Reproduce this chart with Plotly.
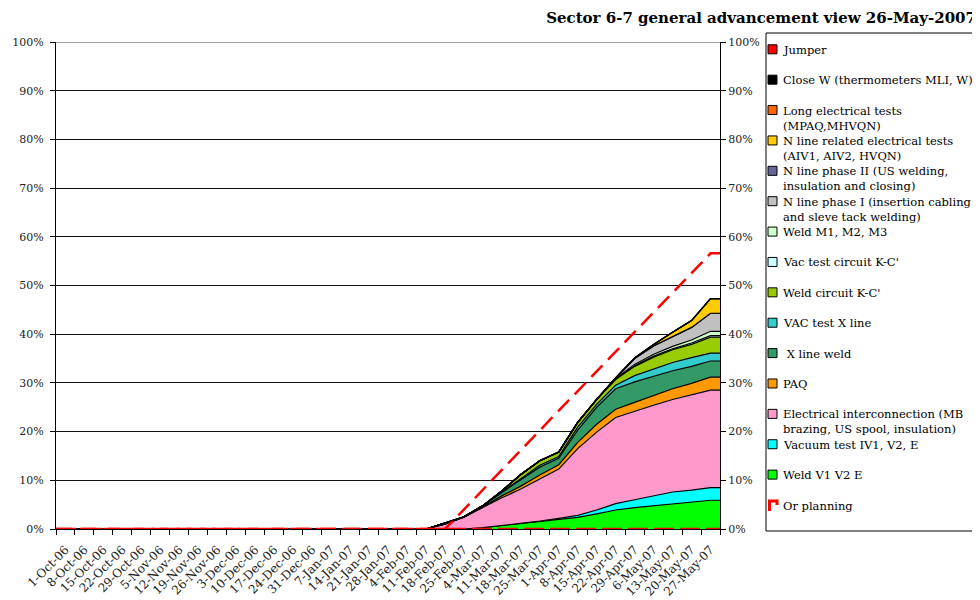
import plotly.graph_objects as go

dates = ["1-Oct-06", "8-Oct-06", "15-Oct-06", "22-Oct-06", "29-Oct-06", "5-Nov-06", "12-Nov-06",
         "19-Nov-06", "26-Nov-06", "3-Dec-06", "10-Dec-06", "17-Dec-06", "24-Dec-06", "31-Dec-06",
         "7-Jan-07", "14-Jan-07", "21-Jan-07", "28-Jan-07", "4-Feb-07", "11-Feb-07", "18-Feb-07",
         "25-Feb-07", "4-Mar-07", "11-Mar-07", "18-Mar-07", "25-Mar-07", "1-Apr-07", "8-Apr-07",
         "15-Apr-07", "22-Apr-07", "29-Apr-07", "6-May-07", "13-May-07", "20-May-07", "27-May-07"]

# values in % (one per week)
weld_v1_v2_e = [0, 0, 0, 0, 0, 0, 0, 0, 0, 0, 0, 0, 0, 0, 0, 0, 0, 0, 0,
                0, 0, 0, 0.3, 0.7, 1.1, 1.6, 2.0, 2.4, 3.1, 3.9, 4.4, 4.8, 5.2, 5.5, 5.9]
vacuum_test_iv1_v2_e = [0, 0, 0, 0, 0, 0, 0, 0, 0, 0, 0, 0, 0, 0, 0, 0, 0, 0, 0,
                        0, 0, 0, 0, 0, 0, 0, 0.2, 0.4, 0.8, 1.3, 1.6, 2.0, 2.4, 2.5, 2.6]
electrical_interconnection = [0, 0, 0, 0, 0, 0, 0, 0, 0, 0, 0, 0, 0, 0, 0, 0, 0, 0, 0,
                              0, 1.0, 2.4, 4.1, 5.7, 7.1, 8.7, 10.1, 13.7, 16.0, 17.7, 18.2, 18.6, 19.0, 19.5, 20.0]
paq = [0, 0, 0, 0, 0, 0, 0, 0, 0, 0, 0, 0, 0, 0, 0, 0, 0, 0, 0,
       0, 0, 0, 0.1, 0.4, 0.6, 0.8, 0.9, 1.3, 1.6, 1.7, 1.8, 2.0, 2.2, 2.4, 2.7]
x_line_weld = [0, 0, 0, 0, 0, 0, 0, 0, 0, 0, 0, 0, 0, 0, 0, 0, 0, 0, 0,
               0, 0.1, 0.1, 0.2, 0.7, 1.3, 1.6, 1.3, 2.5, 3.5, 4.2, 4.2, 4.0, 3.7, 3.5, 3.3]
vac_test_x_line = [0, 0, 0, 0, 0, 0, 0, 0, 0, 0, 0, 0, 0, 0, 0, 0, 0, 0, 0,
                   0, 0, 0, 0, 0.1, 0.2, 0.4, 0.4, 0.6, 0.6, 0.7, 1.3, 1.5, 1.7, 1.8, 1.6]
weld_circuit_kc = [0, 0, 0, 0, 0, 0, 0, 0, 0, 0, 0, 0, 0, 0, 0, 0, 0, 0, 0,
                   0, 0.1, 0, 0.1, 0.2, 0.9, 0.9, 0.9, 1.0, 1.0, 1.2, 1.9, 2.4, 2.6, 2.7, 3.3]
vac_test_circuit_kc = [0, 0, 0, 0, 0, 0, 0, 0, 0, 0, 0, 0, 0, 0, 0, 0, 0, 0, 0,
                       0, 0, 0, 0, 0, 0, 0, 0, 0, 0, 0.1, 0.1, 0.2, 0.2, 0.3, 0.3]
weld_m1_m2_m3 = [0, 0, 0, 0, 0, 0, 0, 0, 0, 0, 0, 0, 0, 0, 0, 0, 0, 0, 0,
                 0, 0, 0, 0, 0, 0, 0, 0, 0, 0, 0.1, 0.3, 0.4, 0.5, 0.6, 0.9]
n_line_phase_1 = [0, 0, 0, 0, 0, 0, 0, 0, 0, 0, 0, 0, 0, 0, 0, 0, 0, 0, 0,
                  0, 0, 0, 0, 0, 0, 0, 0, 0, 0, 0.1, 1.2, 1.7, 2.0, 2.6, 3.7]
n_line_phase_2 = [0, 0, 0, 0, 0, 0, 0, 0, 0, 0, 0, 0, 0, 0, 0, 0, 0, 0, 0,
                  0, 0, 0, 0, 0, 0, 0, 0, 0, 0, 0, 0, 0, 0, 0, 0]
n_line_electrical_tests = [0, 0, 0, 0, 0, 0, 0, 0, 0, 0, 0, 0, 0, 0, 0, 0, 0, 0, 0,
                           0, 0, 0, 0, 0, 0, 0, 0, 0, 0, 0, 0.1, 0.3, 0.9, 1.4, 3.0]
long_electrical_tests = [0, 0, 0, 0, 0, 0, 0, 0, 0, 0, 0, 0, 0, 0, 0, 0, 0, 0, 0,
                         0, 0, 0, 0, 0, 0, 0, 0, 0, 0, 0, 0, 0, 0, 0, 0]
close_w = [0, 0, 0, 0, 0, 0, 0, 0, 0, 0, 0, 0, 0, 0, 0, 0, 0, 0, 0,
           0, 0, 0, 0, 0, 0, 0, 0, 0, 0, 0, 0, 0, 0, 0, 0]
jumper = [0, 0, 0, 0, 0, 0, 0, 0, 0, 0, 0, 0, 0, 0, 0, 0, 0, 0, 0,
          0, 0, 0, 0, 0, 0, 0, 0, 0, 0, 0, 0, 0, 0, 0, 0]
or_planning = [0, 0, 0, 0, 0, 0, 0, 0, 0, 0, 0, 0, 0, 0, 0, 0, 0, 0, 0, 0, 0,
               4.0, 8.1, 12.1, 16.2, 20.2, 24.3, 28.3, 32.4, 36.4, 40.4, 44.5, 48.5, 52.6, 56.6]
planning_baseline = [0, 0, 0, 0, 0, 0, 0, 0, 0, 0, 0, 0, 0, 0, 0, 0, 0, 0, 0,
                     0, 0, 0, 0, 0, 0, 0, 0, 0, 0, 0, 0, 0, 0, 0, 0]

y_ticks = [0, 10, 20, 30, 40, 50, 60, 70, 80, 90, 100]
y_tick_labels = ["0%", "10%", "20%", "30%", "40%", "50%", "60%", "70%", "80%", "90%", "100%"]

# stacking order: bottom -> top
series = [
    ("Weld V1 V2 E", weld_v1_v2_e, "#00FF00"),
    ("Vacuum test IV1, V2, E", vacuum_test_iv1_v2_e, "#00FFFF"),
    ("Electrical interconnection (MB<br>brazing, US spool, insulation)", electrical_interconnection, "#FF99CC"),
    ("PAQ", paq, "#FF9900"),
    (" X line weld", x_line_weld, "#339966"),
    ("VAC test X line", vac_test_x_line, "#33CCCC"),
    ("Weld circuit K-C'", weld_circuit_kc, "#99CC00"),
    ("Vac test circuit K-C'", vac_test_circuit_kc, "#CCFFFF"),
    ("Weld M1, M2, M3", weld_m1_m2_m3, "#CCFFCC"),
    ("N line phase I (insertion cabling<br>and sleve tack welding)", n_line_phase_1, "#C0C0C0"),
    ("N line phase II (US welding,<br>insulation and closing)", n_line_phase_2, "#666699"),
    ("N line related electrical tests<br>(AIV1, AIV2, HVQN)", n_line_electrical_tests, "#FFCC00"),
    ("Long electrical tests<br>(MPAQ,MHVQN)", long_electrical_tests, "#FF6600"),
    ("Close W (thermometers MLI, W)", close_w, "#000000"),
    ("Jumper", jumper, "#FF0000"),
]

FONT = "DejaVu Serif"
n = len(dates)
# category positions, with the Excel-style half-category flat extension at both ends
xpos = [-0.5] + list(range(n)) + [n - 0.5]


def ext(v):
    return [v[0]] + list(v) + [v[-1]]


fig = go.Figure()
for name, vals, col in series:
    fig.add_trace(go.Scatter(
        x=xpos, y=ext(vals), name=name, mode="lines", stackgroup="one",
        fillcolor=col, line=dict(color="black", width=1.2), showlegend=False,
        hoverinfo="skip"))

fig.add_trace(go.Scatter(
    x=xpos, y=ext(planning_baseline), name="Or planning", mode="lines", yaxis="y2",
    line=dict(color="#FF0000", width=2.5, dash="20px,6px"), showlegend=False, hoverinfo="skip"))
fig.add_trace(go.Scatter(
    x=xpos, y=ext(or_planning), name="Or planning", mode="lines", yaxis="y2",
    line=dict(color="#FF0000", width=2.5, dash="16px,8px"), showlegend=False, hoverinfo="skip"))

# The page has an 8px body margin: work in window pixels and shift into figure pixels.
OFF = 8
FW, FH = 980 - OFF, 600 - OFF
L, R, T, B = 56 - OFF, 720 - OFF, 42 - OFF, 529 - OFF
W, H = R - L, B - T


def px(xp):
    return (xp - OFF - L) / W


def py(yp):
    return (B - (yp - OFF)) / H


shapes = [
    dict(type="line", xref="paper", yref="y", x0=0, x1=1, y0=100, y1=100,
         line=dict(color="#808080", width=1.5)),
    dict(type="rect", xref="paper", yref="paper", x0=px(766), x1=px(1000),
         y0=py(531), y1=py(33), line=dict(color="black", width=1), fillcolor="white", layer="below"),
]
annotations = []
legend_items = [(nm, col) for nm, _, col in reversed(series)] + [("Or planning", None)]
for k, (nm, col) in enumerate(legend_items):
    cy = 49.3 + 30.38 * k
    if col is not None:
        shapes.append(dict(type="rect", xref="paper", yref="paper", x0=px(768), x1=px(777),
                           y0=py(cy + 4.5), y1=py(cy - 4.5), fillcolor=col,
                           line=dict(color="black", width=1)))
    else:
        shapes.append(dict(type="path", xref="paper", yref="paper",
                           path=f"M{px(769.5)},{py(cy + 6)} L{px(769.5)},{py(cy - 4)} "
                                f"L{px(777)},{py(cy - 4)} L{px(777)},{py(cy)}",
                           line=dict(color="#FF0000", width=3)))
    annotations.append(dict(xref="paper", yref="paper", x=px(781), y=py(cy - 8.5),
                            xanchor="left", yanchor="top", align="left", text=nm, showarrow=False,
                            font=dict(family=FONT, size=11.5, color="black")))

axis_font = dict(family=FONT, size=11, color="#222222")
fig.update_layout(
    width=FW, height=FH,
    margin=dict(l=L, r=FW - R, t=T, b=FH - B, autoexpand=False),
    paper_bgcolor="white", plot_bgcolor="white",
    showlegend=False,
    title=dict(text="<b>Sector 6-7 general advancement view 26-May-2007</b>",
               xref="container", yref="container", x=(976 - OFF) / FW, xanchor="right",
               y=1 - (18 - OFF) / FH, yanchor="middle",
               font=dict(family=FONT, size=15, color="black")),
    xaxis=dict(range=[-0.5, n - 0.5], tickmode="array", tickvals=list(range(n)), ticktext=dates,
               tickangle=-45, ticks="outside", ticklen=8, tickcolor="rgba(0,0,0,0)", automargin=False,
               showline=True, linecolor="black", linewidth=1, showgrid=False, zeroline=False,
               tickfont=dict(family=FONT, size=12, color="#222222"),
               minor=dict(tickmode="array", tickvals=[k - 0.5 for k in range(n + 1)],
                          ticks="outside", ticklen=5, tickcolor="black", showgrid=False)),
    yaxis=dict(range=[0, 100], tickmode="array", tickvals=y_ticks, ticktext=y_tick_labels,
               ticks="outside", ticklen=5, tickcolor="black", showline=True, linecolor="black",
               automargin=False, ticklabelstandoff=4,
               showgrid=True, gridcolor="#111111", gridwidth=1, zeroline=False, tickfont=axis_font),
    yaxis2=dict(range=[0, 100], tickmode="array", tickvals=y_ticks, ticktext=y_tick_labels,
                overlaying="y", side="right", ticks="outside", ticklen=5, tickcolor="black",
                automargin=False,
                showline=True, linecolor="black", showgrid=False, zeroline=False, tickfont=axis_font),
    shapes=shapes, annotations=annotations,
)

fig.write_html("out.html")
